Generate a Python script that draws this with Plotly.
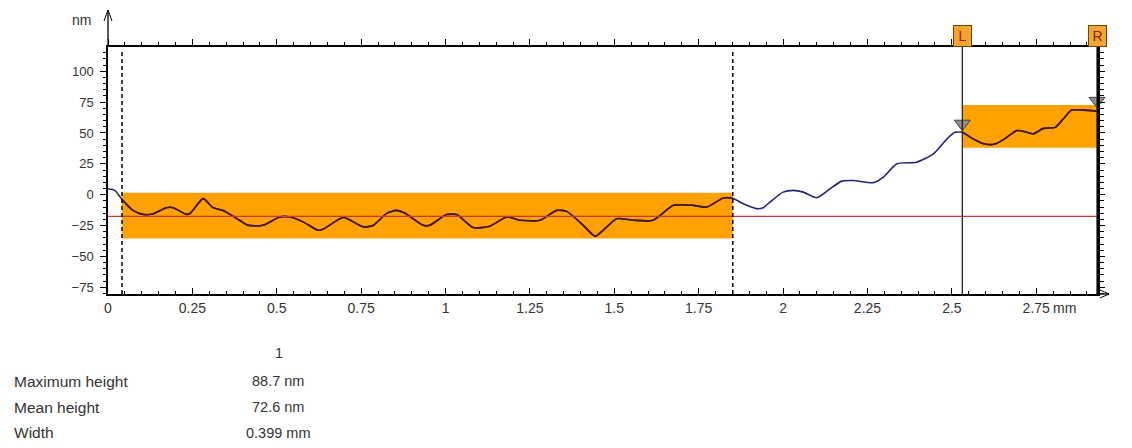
import plotly.graph_objects as go

# ---------------- data ----------------
x_profile = [0.0, 0.02, 0.044, 0.074, 0.104, 0.129, 0.173, 0.193, 0.232, 0.244, 0.282, 0.311,
             0.341, 0.39, 0.415, 0.459, 0.509, 0.539, 0.578, 0.622, 0.637, 0.697, 0.756, 0.785,
             0.825, 0.855, 0.879, 0.934, 0.953, 1.003, 1.033, 1.082, 1.131, 1.181, 1.22, 1.28,
             1.329, 1.359, 1.408, 1.443, 1.467, 1.507, 1.556, 1.615, 1.675, 1.734, 1.774, 1.823,
             1.848, 1.882, 1.922, 1.941, 1.961, 2.0, 2.03, 2.06, 2.1, 2.139, 2.174, 2.208, 2.267,
             2.297, 2.337, 2.396, 2.445, 2.485, 2.509, 2.532, 2.564, 2.598, 2.628, 2.663, 2.692,
             2.717, 2.741, 2.771, 2.806, 2.83, 2.855, 2.89, 2.93]
y_profile = [4.8, 3.5, -4.6, -12.7, -15.9, -15.9, -10.5, -10.5, -15.9, -15.0, -3.2, -10.5,
             -12.7, -20.7, -24.8, -24.8, -18.0, -18.0, -22.0, -28.8, -28.0, -18.5, -26.0, -25.0,
             -15.3, -12.7, -14.8, -24.8, -24.8, -16.1, -16.1, -26.6, -25.6, -18.0, -20.7, -20.7,
             -12.7, -13.5, -24.8, -33.6, -28.8, -19.4, -20.7, -20.7, -8.6, -8.6, -10.0, -2.7,
             -2.7, -7.3, -11.3, -10.5, -6.0, 2.1, 3.5, 2.1, -2.4, 4.8, 11.0, 11.5, 9.7,
             14.2, 25.0, 26.3, 33.0, 45.0, 50.5, 50.5, 45.0, 41.0, 41.0, 46.5, 51.9,
             51.0, 49.2, 53.7, 54.5, 61.3, 68.5, 68.5, 67.7]

mean_level = -17.5
ref_band = [0.0415, 1.851, -35.5, 1.6]      # x0, x1, y0, y1
meas_band = [2.531, 2.93, 38.0, 72.6]       # x0, x1, y0, y1
cursor_names = ["L", "R"]
cursor_x = [2.531, 2.93]
cursor_marker_y = [57.5, 76.0]
dashed_x = [0.0415, 1.851]

x_ticks = [0, 0.25, 0.5, 0.75, 1, 1.25, 1.5, 1.75, 2, 2.25, 2.5, 2.75]
x_ticktext = ["0", "0.25", "0.5", "0.75", "1", "1.25", "1.5", "1.75", "2", "2.25", "2.5", "2.75"]
y_ticks = [-75, -50, -25, 0, 25, 50, 75, 100]
x_range = [0, 2.93]
y_range = [-80.4, 119.6]

table_header = "1"
table_labels = ["Maximum height", "Mean height", "Width"]
table_values = ["88.7 nm", "72.6 nm", "0.399 mm"]

# ---------------- styles ----------------
FONT = "Liberation Sans, Arial, sans-serif"
TXT = "#333333"
ORANGE = "#FFA200"
NAVY = "#23237a"
INBAND = "#4a1630"

OFF = 8  # page body margin of the browser
W, H = 1132 - OFF, 448 - OFF
ML, MR, MT, MB = 108 - OFF, 35, 47 - OFF, 154
PW, PH = W - ML - MR, H - MT - MB

fig = go.Figure()

fig.add_trace(go.Scatter(x=x_profile, y=y_profile, mode="lines",
                         line=dict(color=NAVY, width=1.6, shape="spline", smoothing=0.6),
                         hoverinfo="skip", showlegend=False))


def in_band(xs, ys, band):
    return [y if band[0] <= x <= band[1] else None for x, y in zip(xs, ys)]


for band in (ref_band, meas_band):
    fig.add_trace(go.Scatter(x=x_profile, y=in_band(x_profile, y_profile, band), mode="lines",
                             line=dict(color=INBAND, width=1.6, shape="spline", smoothing=0.6),
                             connectgaps=False, hoverinfo="skip", showlegend=False))

fig.add_trace(go.Scatter(x=x_range, y=[mean_level, mean_level], mode="lines",
                         line=dict(color="#c8383a", width=1.2),
                         hoverinfo="skip", showlegend=False))

fig.add_trace(go.Scatter(x=cursor_x, y=cursor_marker_y, mode="markers", cliponaxis=False,
                         marker=dict(symbol="triangle-down", size=14, color="#8c8c8c",
                                     line=dict(color="#444444", width=1)),
                         hoverinfo="skip", showlegend=False))

fig.add_trace(go.Scatter(x=x_range, y=y_range, xaxis="x2", yaxis="y", mode="markers",
                         marker=dict(opacity=0), hoverinfo="skip", showlegend=False))
fig.add_trace(go.Scatter(x=x_range, y=y_range, xaxis="x", yaxis="y2", mode="markers",
                         marker=dict(opacity=0), hoverinfo="skip", showlegend=False))

shapes = []
for b in (ref_band, meas_band):
    shapes.append(dict(type="rect", xref="x", yref="y", x0=b[0], x1=b[1], y0=b[2], y1=b[3],
                       fillcolor=ORANGE, line=dict(width=0), layer="below"))
for dx in dashed_x:
    shapes.append(dict(type="line", xref="x", yref="y domain", x0=dx, x1=dx, y0=0, y1=0.985,
                       line=dict(color="black", width=1.5, dash="4px,3px")))
for cx in cursor_x:
    shapes.append(dict(type="line", xref="x", yref="y domain", x0=cx, x1=cx, y0=0, y1=1,
                       line=dict(color="#222222", width=1.3)))

ext_up = 37 / PH
shapes.append(dict(type="line", xref="paper", yref="paper", x0=0, x1=0, y0=1, y1=1 + ext_up,
                   line=dict(color="black", width=1.3)))
shapes.append(dict(type="line", xref="paper", yref="paper", x0=-4 / PW, x1=0,
                   y0=1 + ext_up - 11 / PH, y1=1 + ext_up, line=dict(color="black", width=1)))
shapes.append(dict(type="line", xref="paper", yref="paper", x0=4 / PW, x1=0,
                   y0=1 + ext_up - 11 / PH, y1=1 + ext_up, line=dict(color="black", width=1)))
ext_r = 12 / PW
shapes.append(dict(type="line", xref="paper", yref="paper", x0=1, x1=1 + ext_r, y0=0, y1=0,
                   line=dict(color="black", width=1.3)))
shapes.append(dict(type="line", xref="paper", yref="paper", x0=1 + ext_r - 9 / PW, x1=1 + ext_r,
                   y0=4 / PH, y1=0, line=dict(color="black", width=1)))
shapes.append(dict(type="line", xref="paper", yref="paper", x0=1 + ext_r - 9 / PW, x1=1 + ext_r,
                   y0=-4 / PH, y1=0, line=dict(color="black", width=1)))

annotations = []
annotations.append(dict(text="nm", xref="paper", yref="paper", x=-15 / PW, y=1 + 27 / PH,
                        xanchor="right", yanchor="middle", showarrow=False,
                        font=dict(family=FONT, size=14, color=TXT)))
annotations.append(dict(text="mm", xref="x", yref="paper", x=x_ticks[-1], y=-14 / PH,
                        xanchor="left", yanchor="middle", xshift=15, showarrow=False,
                        font=dict(family=FONT, size=14, color=TXT)))
for name, cx in zip(cursor_names, cursor_x):
    annotations.append(dict(text=name, xref="x", yref="paper", x=cx, y=1, xanchor="center",
                            yanchor="bottom", showarrow=False, bgcolor="#F2A531",
                            bordercolor="#6e4508", borderwidth=1, borderpad=2, width=13,
                            font=dict(family=FONT, size=14, color="#8a2a00")))


def py(pix):
    return (H - MB - (pix - OFF)) / PH


def px(pix):
    return ((pix - OFF) - ML) / PW


annotations.append(dict(text=table_header, xref="paper", yref="paper", x=px(279), y=py(353),
                        xanchor="center", yanchor="middle", showarrow=False,
                        font=dict(family=FONT, size=14.5, color=TXT)))
for i, (lab, val) in enumerate(zip(table_labels, table_values)):
    row_y = py(381 + i * 26)
    annotations.append(dict(text=lab, xref="paper", yref="paper", x=px(12), y=row_y,
                            xanchor="left", yanchor="middle", showarrow=False,
                            font=dict(family=FONT, size=15.5, color=TXT)))
    annotations.append(dict(text=val, xref="paper", yref="paper", x=px(278), y=row_y,
                            xanchor="center", yanchor="middle", showarrow=False,
                            font=dict(family=FONT, size=14.5, color=TXT)))

axis_common = dict(showgrid=False, zeroline=False, showline=True, linecolor="black",
                   tickcolor="black")

fig.update_layout(
    width=W, height=H,
    margin=dict(l=ML, r=MR, t=MT, b=MB, pad=0),
    paper_bgcolor="white", plot_bgcolor="white",
    showlegend=False,
    font=dict(family=FONT, color=TXT),
    xaxis=dict(range=x_range, tickvals=x_ticks, ticktext=x_ticktext, ticks="inside",
               ticklen=6, tickwidth=1.3, linewidth=1.5,
               minor=dict(dtick=0.05, ticks="inside", ticklen=3, tickcolor="black"),
               tickfont=dict(family=FONT, size=14, color=TXT), **axis_common),
    xaxis2=dict(range=x_range, overlaying="x", side="top", matches="x", tickvals=x_ticks,
                showticklabels=False, ticks="outside", ticklen=6, tickwidth=1.3, linewidth=1.5,
                minor=dict(dtick=0.05, ticks="outside", ticklen=3, tickcolor="black"),
                **axis_common),
    yaxis=dict(range=y_range, tickvals=y_ticks, ticks="outside", ticklen=6, tickwidth=1.3,
               linewidth=1.5,
               minor=dict(dtick=5, ticks="outside", ticklen=3, tickcolor="black"),
               tickfont=dict(family=FONT, size=13, color=TXT), ticklabelstandoff=4,
               **axis_common),
    yaxis2=dict(range=y_range, overlaying="y", side="right", matches="y", tickvals=y_ticks,
                showticklabels=False, ticks="outside", ticklen=5, tickwidth=1.3, linewidth=3,
                minor=dict(dtick=5, ticks="outside", ticklen=4, tickcolor="black"),
                **axis_common),
    shapes=shapes,
    annotations=annotations,
)

fig.write_html("out.html")
